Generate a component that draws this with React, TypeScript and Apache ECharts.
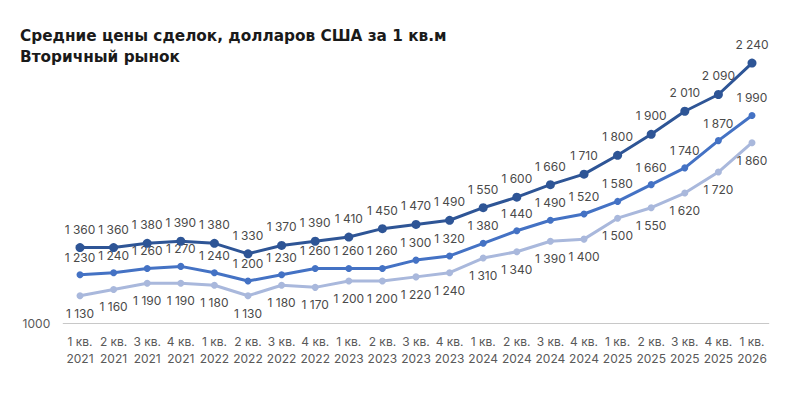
import React, { useEffect, useRef } from "react";
import * as echarts from "echarts";

const categories = [
  "1 кв.\n2021", "2 кв.\n2021", "3 кв.\n2021", "4 кв.\n2021",
  "1 кв.\n2022", "2 кв.\n2022", "3 кв.\n2022", "4 кв.\n2022",
  "1 кв.\n2023", "2 кв.\n2023", "3 кв.\n2023", "4 кв.\n2023",
  "1 кв.\n2024", "2 кв.\n2024", "3 кв.\n2024", "4 кв.\n2024",
  "1 кв.\n2025", "2 кв.\n2025", "3 кв.\n2025", "4 кв.\n2025",
  "1 кв.\n2026",
];
const topSeries = [1360, 1360, 1380, 1390, 1380, 1330, 1370, 1390, 1410, 1450, 1470, 1490, 1550, 1600, 1660, 1710, 1800, 1900, 2010, 2090, 2240];
const midSeries = [1230, 1240, 1260, 1270, 1240, 1200, 1230, 1260, 1260, 1260, 1300, 1320, 1380, 1440, 1490, 1520, 1580, 1660, 1740, 1870, 1990];
const lowSeries = [1130, 1160, 1190, 1190, 1180, 1130, 1180, 1170, 1200, 1200, 1220, 1240, 1310, 1340, 1390, 1400, 1500, 1550, 1620, 1720, 1860];
const yMin = 1000;
const yMax = 2400;
const titleLine1 = "Средние цены сделок, долларов США за 1 кв.м";
const titleLine2 = "Вторичный рынок";

const FONT = "Inter, 'Open Sans', sans-serif";
const TITLE_FONT = "'DejaVu Sans', sans-serif";
const fmt = (v: number) => {
  const s = String(v);
  return s.length > 3 ? s.slice(0, s.length - 3) + " " + s.slice(-3) : s;
};

export default function App() {
  const ref = useRef<HTMLDivElement>(null);
  useEffect(() => {
    if (!ref.current) return;
    const chart = echarts.init(ref.current, undefined, { renderer: "svg" });
    const label = (position: string) => ({
      show: true,
      position,
      distance: 8,
      color: "#4a4a4a",
      fontSize: 12,
      fontFamily: FONT,
      formatter: (p: any) => fmt(p.value),
    });
    chart.setOption({
      animation: false,
      title: {
        text: titleLine1 + "\n" + titleLine2,
        left: 7,
        top: 12,
        textStyle: {
          fontFamily: TITLE_FONT,
          fontWeight: "bold",
          fontSize: 15.3,
          lineHeight: 21,
          color: "#1a1a1a",
        },
      },
      grid: { left: 55.2, right: 23.2, top: 21.5, bottom: 70, containLabel: false },
      xAxis: {
        type: "category",
        data: categories,
        boundaryGap: true,
        axisLine: { lineStyle: { color: "#c8c8c8", width: 1 } },
        axisTick: { show: false },
        axisLabel: {
          color: "#595959",
          fontSize: 12,
          fontFamily: FONT,
          lineHeight: 17,
          margin: 10,
          interval: 0,
        },
      },
      yAxis: {
        type: "value",
        min: yMin,
        max: yMax,
        interval: 200,
        splitLine: { show: false },
        axisLine: { show: false },
        axisTick: { show: false },
        axisLabel: {
          color: "#595959",
          fontSize: 12,
          fontFamily: FONT,
          margin: 13,
          formatter: (v: number) => (v === yMin ? String(v) : ""),
        },
      },
      series: [
        {
          type: "line",
          data: lowSeries,
          symbol: "circle",
          symbolSize: 7,
          lineStyle: { color: "#a9b8dc", width: 3 },
          itemStyle: { color: "#a9b8dc" },
          label: label("bottom"),
          z: 2,
        },
        {
          type: "line",
          data: midSeries,
          symbol: "circle",
          symbolSize: 7,
          lineStyle: { color: "#4472c4", width: 3 },
          itemStyle: { color: "#4472c4" },
          label: label("top"),
          z: 3,
        },
        {
          type: "line",
          data: topSeries,
          symbol: "circle",
          symbolSize: 9,
          lineStyle: { color: "#2e5596", width: 3 },
          itemStyle: { color: "#2e5596" },
          label: label("top"),
          z: 4,
        },
      ],
    });
    return () => chart.dispose();
  }, []);
  return <div ref={ref} style={{ width: 784, height: 385 }} />;
}
